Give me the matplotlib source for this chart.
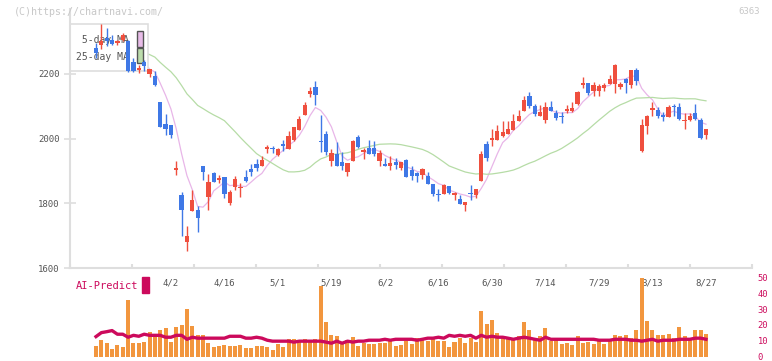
import matplotlib
matplotlib.use("Agg")
import matplotlib.pyplot as plt
from matplotlib.patches import Rectangle
import numpy as np
import pandas as pd

plt.rcParams['font.family'] = ['DejaVu Sans Mono']

# daily candles, 2025-03-12 .. 2025-08-27 (115 trading days)
opens = [2280, 2290, 2310, 2305, 2296, 2305, 2300, 2235, 2213, 2235,
         2199, 2192, 2114, 2045, 2042, 1904, 1826, 1679, 1775, 1778,
         1916, 1818, 1893, 1873, 1881, 1800, 1850, 1847, 1880, 1906,
         1922, 1914, 1969, 1972, 1948, 1984, 1968, 1996, 2027, 2073,
         2138, 2159, 1993, 2015, 1929, 1953, 1927, 1898, 1932, 2006,
         1957, 1970, 1970, 1932, 1921, 1914, 1926, 1909, 1934, 1903,
         1893, 1888, 1885, 1860, 1826, 1829, 1852, 1824, 1813, 1794,
         1830, 1826, 1870, 1984, 1996, 1996, 2008, 2015, 2027, 2055,
         2086, 2132, 2099, 2071, 2058, 2096, 2080, 2068, 2084, 2084,
         2107, 2164, 2171, 2147, 2147, 2156, 2169, 2169, 2158, 2185,
         2164, 2212, 1960, 2040, 2087, 2089, 2073, 2065, 2098, 2097,
         2053, 2056, 2079, 2058, 2012]
highs = [2295, 2355, 2340, 2320, 2305, 2325, 2305, 2250, 2228, 2243,
         2215, 2207, 2114, 2076, 2042, 1929, 1836, 1730, 1842, 1790,
         1916, 1891, 1898, 1888, 1881, 1842, 1883, 1863, 1903, 1922,
         1936, 1945, 1980, 1978, 1970, 1996, 2024, 2037, 2068, 2113,
         2158, 2178, 2073, 2022, 1968, 1988, 1957, 1924, 1996, 2012,
         1970, 1996, 1993, 1965, 1939, 1945, 1940, 1926, 1937, 1914,
         1898, 1909, 1898, 1860, 1844, 1860, 1852, 1836, 1824, 1805,
         1857, 1845, 1960, 1993, 2029, 2042, 2053, 2055, 2075, 2087,
         2132, 2143, 2106, 2104, 2114, 2117, 2089, 2082, 2104, 2114,
         2147, 2190, 2172, 2176, 2168, 2171, 2195, 2231, 2176, 2187,
         2212, 2218, 2061, 2073, 2113, 2096, 2082, 2104, 2106, 2109,
         2079, 2079, 2106, 2064, 2030]
lows = [2250, 2277, 2285, 2290, 2290, 2300, 2205, 2205, 2203, 2210,
        2190, 2161, 2034, 2011, 2002, 1888, 1700, 1653, 1775, 1710,
        1872, 1778, 1867, 1862, 1817, 1795, 1842, 1820, 1867, 1885,
        1900, 1914, 1955, 1955, 1947, 1960, 1968, 1991, 2027, 2073,
        2127, 2104, 1957, 1950, 1914, 1914, 1903, 1885, 1932, 1970,
        1936, 1953, 1945, 1915, 1914, 1903, 1905, 1903, 1880, 1872,
        1867, 1876, 1860, 1821, 1808, 1829, 1829, 1811, 1798, 1775,
        1811, 1816, 1870, 1932, 1978, 1996, 2006, 2015, 2027, 2055,
        2086, 2094, 2071, 2071, 2048, 2084, 2058, 2048, 2079, 2082,
        2104, 2156, 2133, 2130, 2130, 2147, 2169, 2140, 2154, 2140,
        2156, 2164, 1957, 2015, 2068, 2063, 2055, 2065, 2068, 2056,
        2030, 2055, 2056, 1999, 1999]
closes = [2265, 2300, 2300, 2293, 2302, 2320, 2210, 2210, 2215, 2223,
          2215, 2164, 2037, 2029, 2011, 1906, 1780, 1700, 1811, 1754,
          1895, 1865, 1867, 1875, 1829, 1836, 1875, 1849, 1870, 1898,
          1910, 1934, 1971, 1967, 1968, 1978, 2008, 2034, 2061, 2104,
          2147, 2133, 1988, 1957, 1955, 1914, 1914, 1924, 1991, 1975,
          1965, 1953, 1951, 1955, 1914, 1924, 1919, 1926, 1880, 1883,
          1883, 1906, 1860, 1829, 1824, 1857, 1833, 1831, 1798, 1805,
          1828, 1845, 1953, 1940, 2001, 2024, 2019, 2029, 2053, 2070,
          2120, 2099, 2076, 2082, 2097, 2084, 2063, 2066, 2092, 2094,
          2145, 2171, 2142, 2166, 2161, 2166, 2185, 2228, 2169, 2171,
          2212, 2179, 2042, 2070, 2094, 2070, 2065, 2097, 2096, 2060,
          2058, 2070, 2060, 2003, 2030]
volume = [6.8, 10.3, 8.4, 4.7, 7.2, 5.9, 35.9, 8.4, 8.4, 9.1,
          15.3, 13.2, 16.6, 17.8, 9.1, 18.4, 19.7, 30.3, 19.1, 13.4,
          13.4, 8.4, 5.9, 6.6, 7.2, 6.6, 6.6, 7.2, 5.3, 5.3,
          6.6, 6.6, 5.9, 4.1, 7.8, 5.9, 10.9, 10.9, 9.7, 10.9,
          10.3, 10.9, 44.9, 21.8, 13.4, 12.8, 8.4, 10.3, 12.2, 6.6,
          8.4, 7.8, 7.8, 8.4, 8.4, 9.7, 6.6, 7.2, 9.7, 7.8,
          11.6, 10.9, 9.7, 10.9, 9.7, 9.7, 5.9, 9.1, 11.6, 8.4,
          11.6, 9.1, 29.1, 20.3, 23.4, 14.7, 12.2, 10.9, 11.6, 12.8,
          21.6, 16.6, 10.9, 12.8, 17.8, 9.7, 10.3, 7.8, 8.4, 7.2,
          12.8, 8.4, 9.1, 7.8, 9.7, 7.8, 10.3, 13.4, 12.8, 13.4,
          11.6, 16.6, 49.5, 22.2, 16.6, 13.4, 13.4, 14.1, 11.6, 18.4,
          12.8, 11.6, 16.6, 16.6, 14.1]
ai_predict = [12.6, 15.1, 15.7, 16.4, 14.1, 14.1, 12.2, 13.4, 12.8, 14.1,
              13.4, 13.4, 13.4, 12.2, 12.2, 13.4, 13.4, 10.9, 12.2, 11.6,
              11.6, 11.6, 11.6, 11.6, 11.6, 12.8, 12.8, 12.8, 11.6, 11.6,
              12.2, 11.6, 10.3, 9.7, 9.7, 9.7, 9.7, 9.1, 9.7, 9.7,
              9.7, 9.7, 9.7, 9.1, 8.4, 9.7, 8.4, 9.7, 9.1, 9.7,
              9.7, 10.3, 10.3, 10.3, 10.9, 10.3, 10.9, 10.9, 10.9, 10.9,
              10.3, 10.9, 11.6, 11.6, 12.2, 11.6, 13.4, 12.8, 13.4, 12.8,
              13.4, 11.6, 13.4, 12.2, 12.8, 12.2, 12.2, 11.6, 10.9, 11.6,
              12.2, 11.6, 10.9, 10.3, 12.2, 10.9, 10.9, 10.9, 10.9, 10.9,
              10.9, 10.9, 10.9, 10.9, 10.3, 10.3, 10.3, 10.9, 10.9, 10.9,
              10.3, 10.3, 9.7, 10.3, 10.9, 9.7, 10.3, 10.3, 10.3, 10.9,
              10.9, 10.9, 11.6, 11.6, 10.9]
date_labels = ["4/2", "4/16", "5/1", "5/19", "6/2", "6/16", "6/30",
               "7/14", "7/29", "8/13", "8/27"]
date_idx = [14, 24, 34, 44, 54, 64, 74, 84, 94, 104, 114]

RED = '#ef4f3e'
BLUE = '#3f78e6'
CRIMSON = '#cc0a5c'
GRID = '#dedede'
TXT = '#555555'

W, H = 772, 361
fig = plt.figure(figsize=(W / 100, H / 100), dpi=100)
xlim = (-4.86, 122.6)

ax = fig.add_axes([70 / W, 1 - 268 / H, 682 / W, 259 / H])
ax.set_xlim(*xlim)
ax.set_ylim(1600, 2400)

x = np.arange(len(closes))
o = np.array(opens)
c = np.array(closes)
up = c >= o
cols = np.where(up, RED, BLUE)

# moving averages
ma5 = pd.Series(closes).rolling(5, min_periods=1).mean()
ma25 = pd.Series(closes).rolling(25, min_periods=1).mean()
ax.plot(x, ma5, color='#e8b6e8', lw=0.9, zorder=1)
ax.plot(x, ma25, color='#b6dca6', lw=0.9, zorder=1)

# legend box (under the candles)
ax.add_patch(Rectangle((0, 0.7606), 0.1144, 0.1815, transform=ax.transAxes,
                       facecolor='white', edgecolor=GRID, lw=1.2, zorder=2,
                       clip_on=False))
ax.text(0.0088, 0.880, " 5-day MA", transform=ax.transAxes, fontsize=7,
        color=TXT, va='center', ha='left', zorder=2)
ax.text(0.0088, 0.8147, "25-day MA", transform=ax.transAxes, fontsize=7,
        color=TXT, va='center', ha='left', zorder=2)
ax.add_patch(Rectangle((0.0982, 0.853), 0.0088, 0.062, transform=ax.transAxes,
                       facecolor='#e8bce8', edgecolor='#555555', lw=1, zorder=2))
ax.add_patch(Rectangle((0.0982, 0.7915), 0.0088, 0.0575, transform=ax.transAxes,
                       facecolor='#bcdcac', edgecolor='#555555', lw=1, zorder=2))

# candles
body = np.maximum(np.abs(c - o), 4)
ax.vlines(x, lows, highs, colors=cols, lw=1, zorder=3)
ax.bar(x, body, bottom=np.minimum(o, c), width=0.8, color=cols, zorder=4)

for s in ['top', 'right']:
    ax.spines[s].set_visible(False)
for s in ['left', 'bottom']:
    ax.spines[s].set_color(GRID)
    ax.spines[s].set_linewidth(1.5)
ax.set_xticks(np.linspace(xlim[0], xlim[1], 12))
ax.set_xticklabels([])
ax.tick_params(axis='x', direction='in', length=3, width=1.5, color=GRID)
ax.set_yticks([1600, 1800, 2000, 2200])
ax.tick_params(axis='y', direction='inout', length=9, width=1.2, color=GRID,
               labelsize=6.5, labelcolor=TXT, pad=3)

for i, lab in zip(date_idx, date_labels):
    ax.text(i, -0.056, lab, transform=ax.get_xaxis_transform(), ha='center',
            va='center', fontsize=6.5, color=TXT)

# lower panel: volume + AI-Predict
ax2 = fig.add_axes([70 / W, 1 - 356.5 / H, 682 / W, 79 / H])
ax2.set_xlim(*xlim)
ax2.set_ylim(0, 50)
ax2.bar(x, volume, width=0.75, color='#f2963e', zorder=1)
ax2.plot(x, ai_predict, color=CRIMSON, lw=2.4, zorder=2)
for s in ax2.spines.values():
    s.set_visible(False)
ax2.set_xticks([])
ax2.yaxis.tick_right()
ax2.set_yticks([0, 10, 20, 30, 40, 50])
ax2.tick_params(axis='y', length=0, labelsize=6.3, labelcolor=CRIMSON, pad=4)
ax2.patch.set_alpha(0)

fig.text(76 / W, 1 - 286 / H, "AI-Predict", fontsize=7.5, color=CRIMSON,
         va='center', ha='left')
fig.add_artist(Rectangle((142 / W, 1 - 293 / H), 7 / W, 16 / H,
                         transform=fig.transFigure, color=CRIMSON))

fig.text(14 / W, 1 - 12 / H, "(C)https://chartnavi.com/", fontsize=7.2,
         color='#c8c8c8', va='center', ha='left')
fig.text(760 / W, 1 - 12 / H, "6363", fontsize=6.5, color='#c8c8c8',
         va='center', ha='right')

fig.savefig("out.png", dpi=100)
